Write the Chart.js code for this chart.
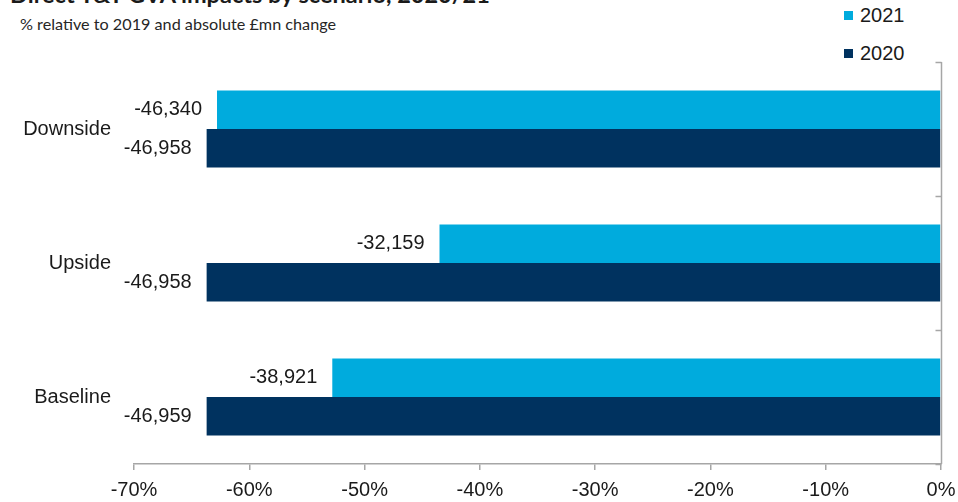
<!DOCTYPE html>
<html>
<head>
<meta charset="utf-8">
<script src="https://cdn.jsdelivr.net/npm/chart.js@4/dist/chart.umd.min.js"></script>
<style>
  html,body{margin:0;padding:0;background:#fff;}
  #wrap{position:relative;width:958px;height:502px;overflow:hidden;}
  #title{position:absolute;left:10px;top:-20px;font:bold 23.5px Lato, "Open Sans", sans-serif;color:#1a1a1a;white-space:nowrap;}
  #subtitle{position:absolute;left:20px;top:14px;font:16.2px Lato, "Open Sans", sans-serif;color:#262626;white-space:nowrap;}
  .leg{position:absolute;left:844px;font:20px "Liberation Sans", Arial, sans-serif;color:#1a1a1a;display:flex;align-items:center;}
  .leg span.sw{display:inline-block;width:9px;height:9px;margin-right:7px;}
  canvas{position:absolute;left:0;top:0;}
</style>
</head>
<body>
<div id="wrap">
  <div id="title">Direct T&amp;T GVA impacts by scenario, 2020/21</div>
  <div id="subtitle">% relative to 2019 and absolute £mn change</div>
  <div id="legend"></div>
  <canvas id="c" width="958" height="502"></canvas>
</div>
<script>
// ---- data ----
const categories = ['Downside', 'Upside', 'Baseline'];
const seriesNames = ['2021', '2020'];
const pct2021 = [-62.8, -43.5, -52.8];
const pct2020 = [-63.7, -63.7, -63.7];
const abs2021 = ['-46,340', '-32,159', '-38,921'];
const abs2020 = ['-46,958', '-46,958', '-46,959'];
const xMin = -70, xMax = 0, xStep = 10;

const colors = ['#00ABDD', '#00325F'];
const axisColor = '#a6a6a6';
const textColor = '#1a1a1a';
const FONT = '"Liberation Sans", Arial, sans-serif';

// legend (HTML)
const legendEl = document.getElementById('legend');
seriesNames.forEach((n, i) => {
  const d = document.createElement('div');
  d.className = 'leg';
  d.style.top = (i === 0 ? 4 : 42) + 'px';
  d.innerHTML = '<span class="sw" style="background:' + colors[i] + '"></span>' + n;
  legendEl.appendChild(d);
});

const valueLabels = [abs2021, abs2020];

const labelPlugin = {
  id: 'valueLabels',
  afterDatasetsDraw(chart) {
    const ctx = chart.ctx;
    ctx.save();
    ctx.font = '20px ' + FONT;
    ctx.fillStyle = textColor;
    ctx.textAlign = 'right';
    ctx.textBaseline = 'middle';
    chart.data.datasets.forEach((ds, di) => {
      const meta = chart.getDatasetMeta(di);
      meta.data.forEach((bar, i) => {
        ctx.fillText(valueLabels[di][i], bar.x - 15, bar.y);
      });
    });
    ctx.restore();
  }
};

const zeroAxisPlugin = {
  id: 'zeroAxis',
  afterDraw(chart) {
    const ctx = chart.ctx;
    const xs = chart.scales.x, ys = chart.scales.y;
    const x0 = Math.round(xs.getPixelForValue(0)) + 0.5;
    const top = chart.chartArea.top, bottom = chart.chartArea.bottom;
    ctx.save();
    ctx.strokeStyle = axisColor;
    ctx.lineWidth = 1.5;
    ctx.beginPath();
    ctx.moveTo(x0, top);
    ctx.lineTo(x0, bottom);
    const n = categories.length;
    for (let k = 0; k <= n; k++) {
      const y = Math.round(ys.getPixelForValue(k - 0.5)) + 0.5;
      ctx.moveTo(x0 - 6, y);
      ctx.lineTo(x0, y);
    }
    ctx.stroke();
    ctx.restore();
  }
};

new Chart(document.getElementById('c'), {
  type: 'bar',
  data: {
    labels: categories,
    datasets: [
      { label: seriesNames[0], data: pct2021, backgroundColor: colors[0], borderWidth: 0 },
      { label: seriesNames[1], data: pct2020, backgroundColor: colors[1], borderWidth: 0 }
    ]
  },
  options: {
    indexAxis: 'y',
    responsive: false,
    animation: false,
    devicePixelRatio: 1,
    layout: { padding: { top: 62, right: 17, left: 0, bottom: 0 } },
    datasets: { bar: { barPercentage: 1, categoryPercentage: 0.575 } },
    plugins: { legend: { display: false }, tooltip: { enabled: false } },
    scales: {
      x: {
        type: 'linear',
        min: xMin, max: xMax,
        afterFit(s) { s.height = 38; s.paddingLeft = 0; s.paddingRight = 0; },
        ticks: {
          stepSize: xStep,
          padding: 8,
          color: textColor,
          font: { family: FONT, size: 20 },
          callback: v => v + '%'
        },
        grid: { drawOnChartArea: false, drawTicks: true, tickLength: 6, color: axisColor, lineWidth: 1.5 },
        border: { display: true, color: axisColor, width: 1.5 }
      },
      y: {
        type: 'category',
        afterFit(s) { s.width = 134; s.paddingTop = 0; s.paddingBottom = 0; },
        ticks: {
          padding: 23,
          color: textColor,
          font: { family: FONT, size: 20 }
        },
        grid: { display: false, drawTicks: false },
        border: { display: false }
      }
    }
  },
  plugins: [labelPlugin, zeroAxisPlugin]
});
</script>
</body>
</html>
